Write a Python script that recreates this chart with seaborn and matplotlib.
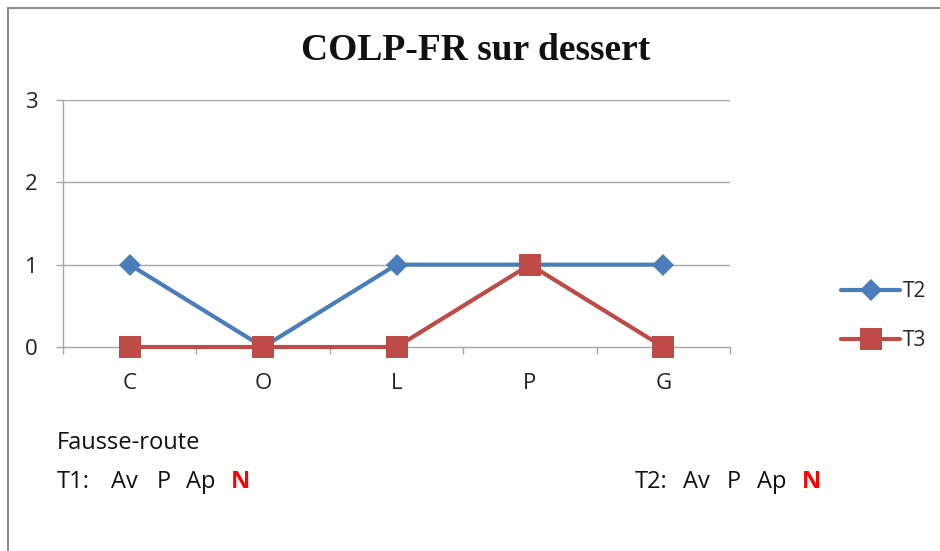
import matplotlib
matplotlib.use("Agg")
import matplotlib.pyplot as plt
from matplotlib.lines import Line2D
import seaborn as sns
import pandas as pd

categories = ["C", "O", "L", "P", "G"]
t2_values = [1, 0, 1, 1, 1]
t3_values = [0, 0, 0, 1, 0]
y_ticks = [0, 1, 2, 3]

blue = "#4A7EBB"
red = "#BE4B48"
grid_gray = "#A6A6A6"

df = pd.DataFrame({
    "cat": categories * 2,
    "val": t2_values + t3_values,
    "serie": ["T2"] * len(categories) + ["T3"] * len(categories),
})
df["x"] = df["cat"].map({c: i for i, c in enumerate(categories)})

sns.set_theme(style="white")
plt.rcParams["font.family"] = ["Open Sans", "DejaVu Sans"]

fig = plt.figure(figsize=(9.4, 5.51), dpi=100)
ax = fig.add_axes([63 / 940, 1 - 347 / 551, (730 - 63) / 940, (347 - 100) / 551])

sns.lineplot(data=df, x="x", y="val", hue="serie", style="serie",
             palette={"T2": blue, "T3": red},
             markers={"T2": "D", "T3": "s"}, dashes=False,
             linewidth=3, markersize=11.5, markeredgewidth=0, ax=ax, zorder=3)

for line in ax.lines:
    line.set_clip_on(False)
    if line.get_marker() == "s":
        line.set_markersize(15.5)
        line.set_zorder(4)

ax.set_xlim(-0.5, len(categories) - 0.5)
ax.set_ylim(0, 3)
ax.set_yticks(y_ticks)
ax.set_xticks(range(len(categories)))
ax.set_xticklabels(categories)
ax.set_xticks([i - 0.5 for i in range(len(categories) + 1)], minor=True)
ax.set_xlabel("")
ax.set_ylabel("")

for y in y_ticks[1:]:
    ax.axhline(y, color=grid_gray, lw=1, zorder=1)
for s in ["top", "right"]:
    ax.spines[s].set_visible(False)
for s in ["left", "bottom"]:
    ax.spines[s].set_color(grid_gray)
    ax.spines[s].set_linewidth(1)
    ax.spines[s].set_zorder(1)

ax.tick_params(axis="x", which="major", length=0, pad=19, labelsize=16, colors="#222222")
ax.tick_params(axis="x", which="minor", length=5, width=1, color=grid_gray, direction="out", bottom=True)
ax.tick_params(axis="y", length=5, width=1, color=grid_gray, direction="out", left=True, pad=13,
               labelsize=16, labelcolor="#222222")
ax.set_facecolor("none")

ax.legend(handles=ax.get_legend_handles_labels()[0], labels=["T2", "T3"],
          loc="center left", bbox_to_anchor=(833 / 940, 1 - 316 / 551),
          bbox_transform=fig.transFigure, frameon=False, fontsize=15,
          handlelength=2.8, handletextpad=0.15, labelspacing=1.35, borderaxespad=0)

fig.text(476 / 940, 1 - 51 / 551, "COLP-FR sur dessert",
         ha="center", va="center", fontsize=27, fontweight="bold",
         family=["Liberation Serif", "DejaVu Serif"], color="#111111")

fig.text(57 / 940, 1 - 449 / 551, "Fausse-route", ha="left", va="baseline", fontsize=17, color="#111111")

# legend of choking (T1 / T2), pieces placed one by one
row_parts = [("T1:", 57), ("Av", 111), ("P", 157), ("Ap", 186),
             ("T2:", 635), ("Av", 683), ("P", 727), ("Ap", 757)]
for txt, xpos in row_parts:
    fig.text(xpos / 940, 1 - 488 / 551, txt, ha="left", va="baseline", fontsize=17, color="#111111")
for xpos in [231, 802]:
    fig.text(xpos / 940, 1 - 488 / 551, "N", ha="left", va="baseline", fontsize=17,
             color="#FF0000", fontweight="bold")

# chart area border
fig.add_artist(Line2D([8 / 940, 8 / 940], [0, 1 - 8 / 551], color="#8C8C8C", lw=1.5, transform=fig.transFigure))
fig.add_artist(Line2D([8 / 940, 1], [1 - 8 / 551, 1 - 8 / 551], color="#8C8C8C", lw=1.5, transform=fig.transFigure))

fig.savefig("out.png", dpi=100, facecolor="white")
